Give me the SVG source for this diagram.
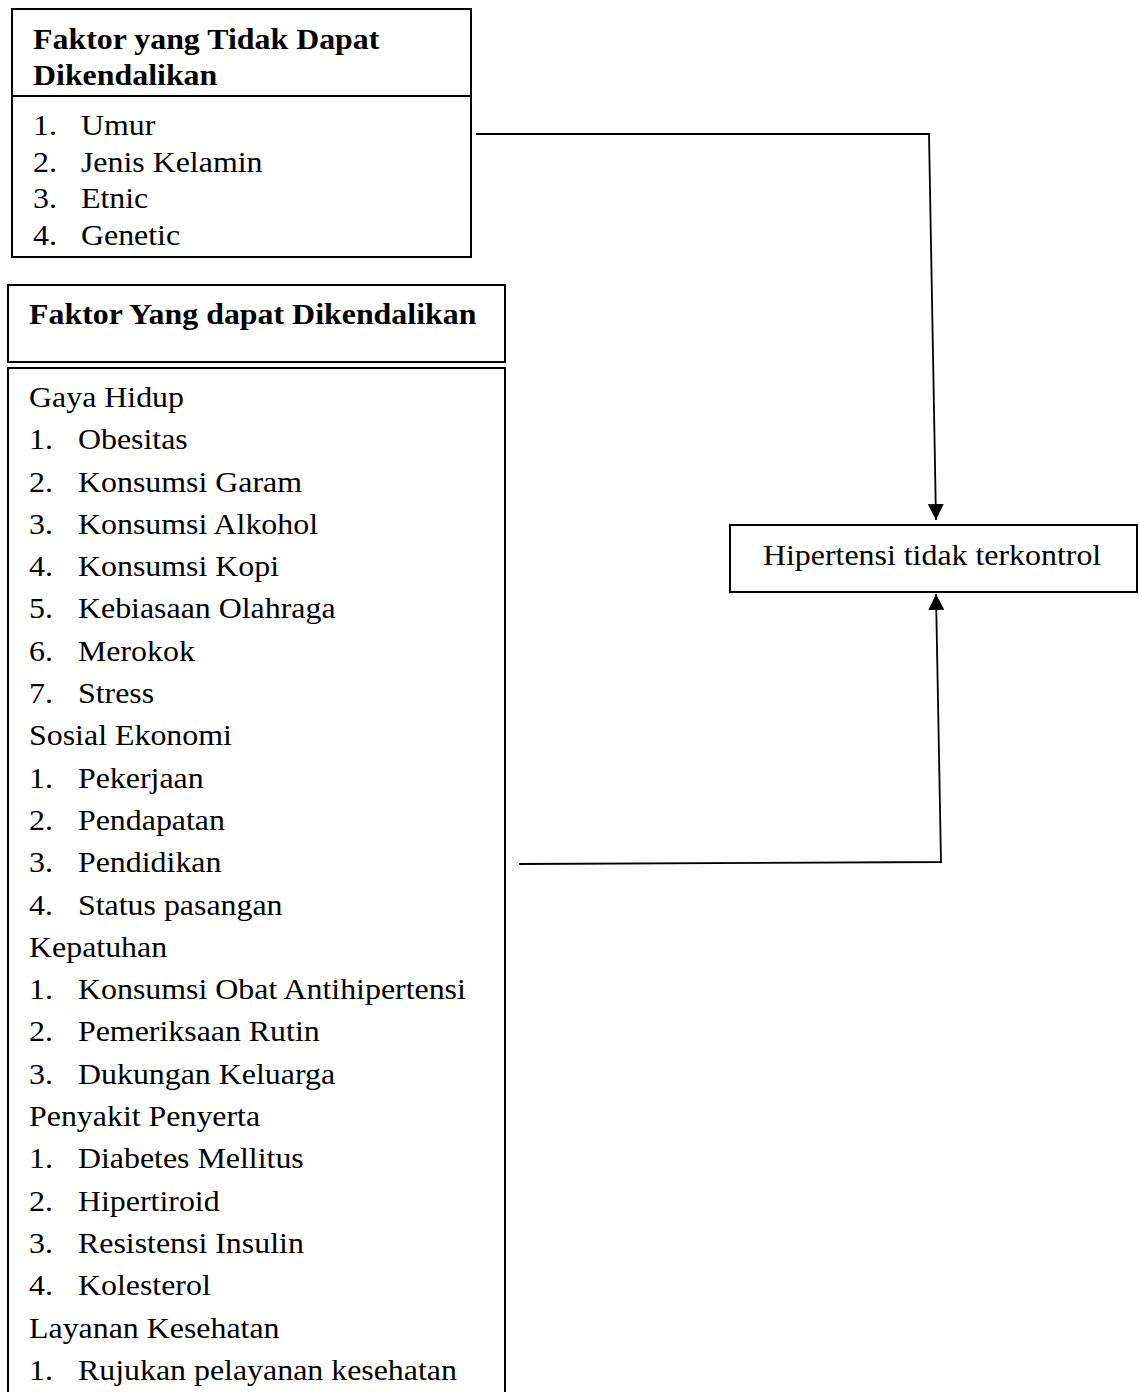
<svg xmlns="http://www.w3.org/2000/svg" width="1139" height="1392" viewBox="0 0 1139 1392">
<style>
.box{fill:#fff;stroke:#000;stroke-width:2}
.conn{fill:none;stroke:#000;stroke-width:1.8}
text{font-family:"Liberation Serif","Times New Roman",serif;font-size:29px;fill:#000}
.b{font-weight:bold}
</style>
<defs>
<marker id="arr" markerUnits="userSpaceOnUse" markerWidth="16" markerHeight="16" refX="16" refY="8" orient="auto">
<path d="M0,0 L16,8 L0,16 z" fill="#000"/>
</marker>
</defs>
<rect width="1139" height="1392" fill="#fff"/>
<g id="faktor-tidak-dapat">
<rect class="box" x="12" y="9" width="459" height="248"/>
<line x1="12" y1="96" x2="471" y2="96" stroke="#000" stroke-width="2"/>
<g transform="scale(1.1,1)">
<text class="b" x="30" y="49">Faktor yang Tidak Dapat</text>
<text class="b" x="30" y="85">Dikendalikan</text>
<text x="30" y="135">1.</text><text x="73.6" y="135">Umur</text>
<text x="30" y="171.7">2.</text><text x="73.6" y="171.7">Jenis Kelamin</text>
<text x="30" y="208.3">3.</text><text x="73.6" y="208.3">Etnic</text>
<text x="30" y="245">4.</text><text x="73.6" y="245">Genetic</text>
</g>
</g>
<g id="faktor-dapat-header">
<rect class="box" x="8" y="285" width="497" height="77"/>
<g transform="scale(1.1,1)">
<text class="b" x="26.4" y="324">Faktor Yang dapat Dikendalikan</text>
</g>
</g>
<g id="faktor-dapat-list">
<rect class="box" x="8" y="368" width="497" height="1100"/>
<g transform="scale(1.1,1)">
<text x="26.4" y="407">Gaya Hidup</text>
<text x="26.4" y="449.3">1.</text><text x="70.9" y="449.3">Obesitas</text>
<text x="26.4" y="491.6">2.</text><text x="70.9" y="491.6">Konsumsi Garam</text>
<text x="26.4" y="533.9">3.</text><text x="70.9" y="533.9">Konsumsi Alkohol</text>
<text x="26.4" y="576.2">4.</text><text x="70.9" y="576.2">Konsumsi Kopi</text>
<text x="26.4" y="618.5">5.</text><text x="70.9" y="618.5">Kebiasaan Olahraga</text>
<text x="26.4" y="660.8">6.</text><text x="70.9" y="660.8">Merokok</text>
<text x="26.4" y="703.1">7.</text><text x="70.9" y="703.1">Stress</text>
<text x="26.4" y="745.4">Sosial Ekonomi</text>
<text x="26.4" y="787.7">1.</text><text x="70.9" y="787.7">Pekerjaan</text>
<text x="26.4" y="830">2.</text><text x="70.9" y="830">Pendapatan</text>
<text x="26.4" y="872.3">3.</text><text x="70.9" y="872.3">Pendidikan</text>
<text x="26.4" y="914.6">4.</text><text x="70.9" y="914.6">Status pasangan</text>
<text x="26.4" y="956.9">Kepatuhan</text>
<text x="26.4" y="999.2">1.</text><text x="70.9" y="999.2">Konsumsi Obat Antihipertensi</text>
<text x="26.4" y="1041.5">2.</text><text x="70.9" y="1041.5">Pemeriksaan Rutin</text>
<text x="26.4" y="1083.8">3.</text><text x="70.9" y="1083.8">Dukungan Keluarga</text>
<text x="26.4" y="1126.1">Penyakit Penyerta</text>
<text x="26.4" y="1168.4">1.</text><text x="70.9" y="1168.4">Diabetes Mellitus</text>
<text x="26.4" y="1210.7">2.</text><text x="70.9" y="1210.7">Hipertiroid</text>
<text x="26.4" y="1253">3.</text><text x="70.9" y="1253">Resistensi Insulin</text>
<text x="26.4" y="1295.3">4.</text><text x="70.9" y="1295.3">Kolesterol</text>
<text x="26.4" y="1337.6">Layanan Kesehatan</text>
<text x="26.4" y="1379.9">1.</text><text x="70.9" y="1379.9">Rujukan pelayanan kesehatan</text>
</g>
</g>
<g id="hipertensi">
<rect class="box" x="730" y="525" width="407" height="67"/>
<g transform="scale(1.1,1)">
<text x="693.6" y="565">Hipertensi tidak terkontrol</text>
</g>
</g>
<g id="connectors">
<polyline class="conn" points="476,134 929,134 936,520" marker-end="url(#arr)"/>
<polyline class="conn" points="519,864 941,862 936,594" marker-end="url(#arr)"/>
</g>
</svg>
